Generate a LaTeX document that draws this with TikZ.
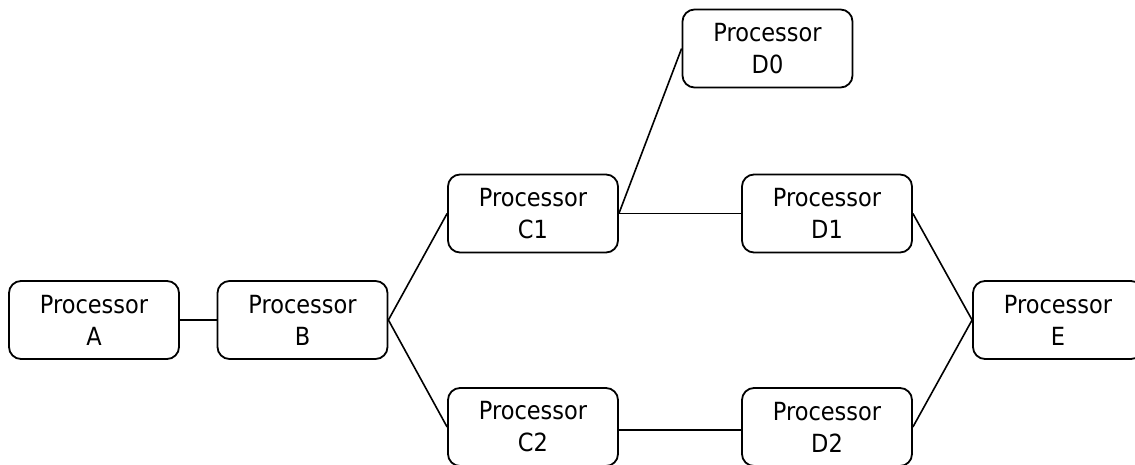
\documentclass[tikz,border=0pt]{standalone}
\usepackage{fontspec}
\setmainfont{DejaVu Sans}[FakeStretch=0.9]
\begin{document}
\begin{tikzpicture}[x=1pt,y=-1pt,
  proc/.style={draw, line width=1.8pt, rounded corners=12pt, fill=white,
    minimum width=170pt, minimum height=78pt, inner sep=0pt, align=center,
    font=\fontsize{25}{32}\selectfont},
  link/.style={line width=1.6pt}]
\clip (0,0) rectangle (1135,465);
\fill[white] (0,0) rectangle (1135,465);

\node[proc] (A)  at (94,320)    {Processor\\A};
\node[proc] (B)  at (302.5,320) {Processor\\B};
\node[proc] (C1) at (533,213.5) {Processor\\C1};
\node[proc] (C2) at (533,427)   {Processor\\C2};
\node[proc] (D0) at (767.5,48.5){Processor\\D0};
\node[proc] (D1) at (827,213.5) {Processor\\D1};
\node[proc] (D2) at (827,427)   {Processor\\D2};
\node[proc] (E)  at (1058,320)  {Processor\\E};

\draw[link] (A.east) -- (B.west);
\draw[link] (B.east) -- (C1.west);
\draw[link] (B.east) -- (C2.west);
\draw[link] (C1.east) -- (D0.west);
\draw[link] (C1.east) -- (D1.west);
\draw[link] ([yshift=-3pt]C2.east) -- ([yshift=-3pt]D2.west);
\draw[link] (D1.east) -- (E.west);
\draw[link] (D2.east) -- (E.west);
\end{tikzpicture}
\end{document}
